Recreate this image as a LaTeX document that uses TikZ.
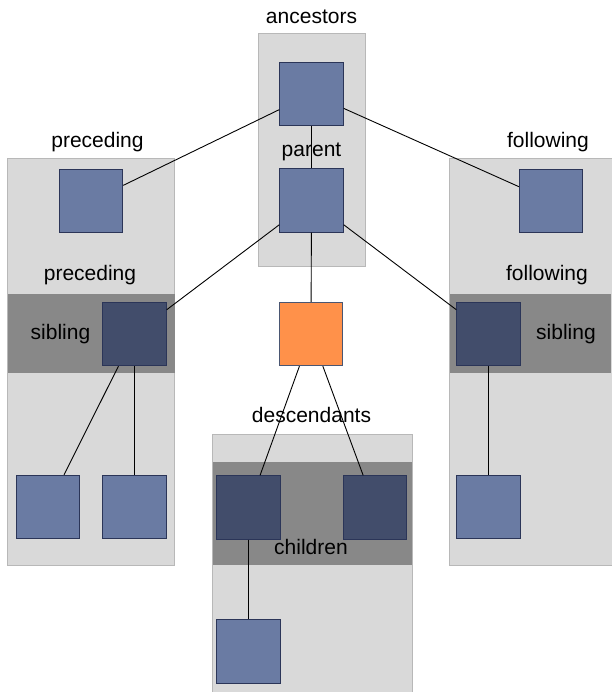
\documentclass[tikz,border=0pt]{standalone}
\usepackage{fontspec}
\setmainfont{Liberation Sans}
\definecolor{boxbg}{HTML}{D9D9D9}
\definecolor{boxline}{HTML}{B8B8B8}
\definecolor{band}{HTML}{888888}
\definecolor{lightsq}{HTML}{6A7BA3}
\definecolor{darksq}{HTML}{424D6B}
\definecolor{selfsq}{HTML}{FF914A}
\definecolor{sqline}{HTML}{2B3558}
\begin{document}
\begin{tikzpicture}[x=1pt,y=-1pt,
  region/.style={fill=boxbg,draw=boxline,line width=1pt},
  bandbox/.style={fill=band,draw=none},
  sq/.style={draw=sqline,line width=0.9pt,minimum width=63.5pt,minimum height=63.5pt,inner sep=0pt},
  lsq/.style={sq,fill=lightsq},
  dsq/.style={sq,fill=darksq},
  osq/.style={sq,fill=selfsq,draw=lightsq!70!black},
  conn/.style={draw=black,line width=0.9pt},
  lbl/.style={font=\fontsize{21}{25}\selectfont,text=black,inner sep=0pt}]
\useasboundingbox (0,0) rectangle (611,692);
% regions
\draw[region] (258,34) rectangle (365,266);
\draw[region] (7,159) rectangle (174,565);
\draw[region] (449,159) rectangle (615,565);
\draw[region] (212,434) rectangle (412,700);
% bands
\fill[band] (8,294) rectangle (175,373);
\fill[band] (449.5,294) rectangle (611,373);
\fill[band] (212.5,462) rectangle (411.5,565);
% squares
\node[lsq] (anc) at (311.5,94) {};
\node[lsq] (par) at (311.5,200.5) {};
\node[lsq] (prec) at (91,201) {};
\node[lsq] (foll) at (551,201) {};
\node[dsq] (psib) at (134.5,334) {};
\node[dsq] (fsib) at (488.5,334) {};
\node[osq] (self) at (311,334) {};
\node[lsq] (pc1) at (48,507) {};
\node[lsq] (pc2) at (134.5,507) {};
\node[lsq] (fc) at (488.5,507) {};
\node[dsq] (ch1) at (248.5,507.5) {};
\node[dsq] (ch2) at (375,507.5) {};
\node[lsq] (gc) at (248.5,651.5) {};
% connectors
\draw[conn] (anc) -- (prec);
\draw[conn] (anc) -- (foll);
\draw[conn] (anc) -- (par);
\draw[conn] (par) -- (psib);
\draw[conn] (par) -- (fsib);
\draw[conn] (par) -- (self);
\draw[conn] (psib) -- (pc1);
\draw[conn] (psib) -- (pc2);
\draw[conn] (fsib) -- (fc);
\draw[conn] (self) -- (ch1);
\draw[conn] (self) -- (ch2);
\draw[conn] (ch1) -- (gc);
% labels
\node[lbl] (t1) at (311.5,17) {ancestors};
\node[lbl] (t2) at (97.5,142) {preceding};
\node[lbl] (t3) at (548,142) {following};
\node[lbl] (t4) at (311.5,152) {parent};
\node[lbl] (t5) at (90,275) {preceding};
\node[lbl] (t6) at (547,275) {following};
\node[lbl] (t7) at (60.5,334) {sibling};
\node[lbl] (t8) at (566,334) {sibling};
\node[lbl] (t9) at (311.5,415) {descendants};
\node[lbl] (t10) at (311,547) {children};
\end{tikzpicture}
\end{document}
